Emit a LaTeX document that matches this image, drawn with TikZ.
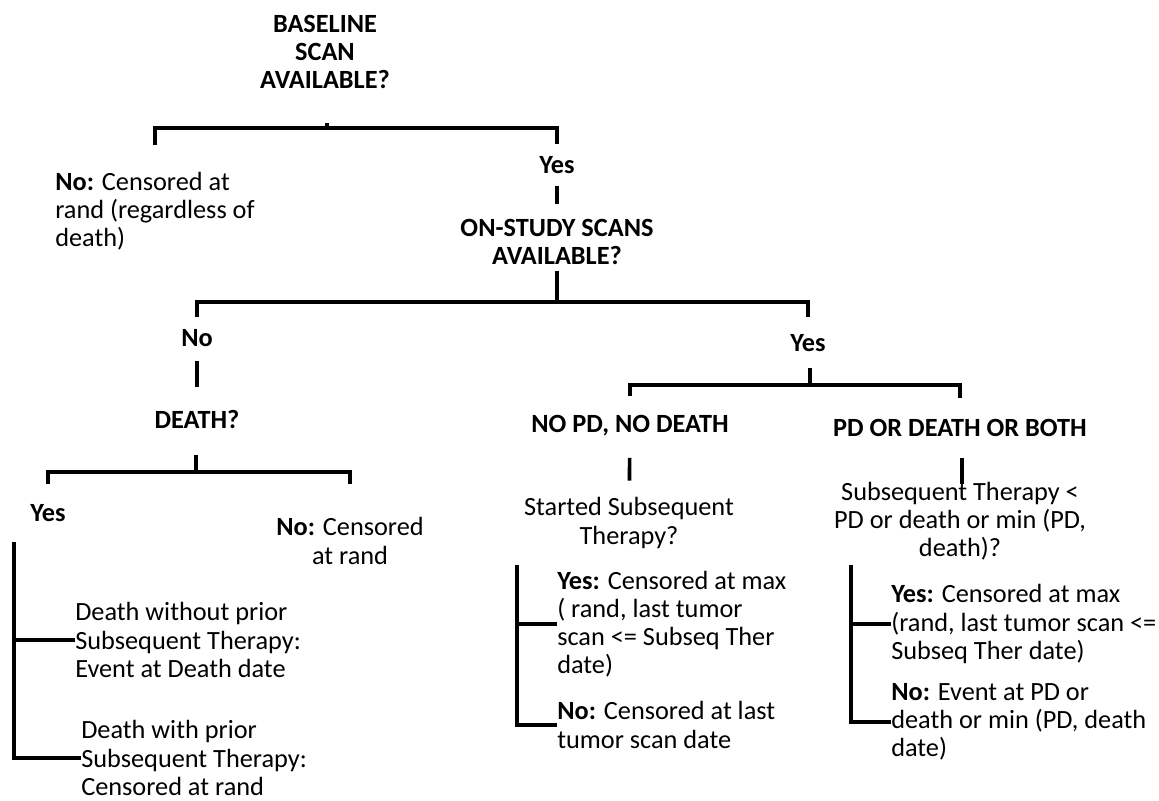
\documentclass[tikz,border=0pt]{standalone}
\usepackage{fontspec}
\setmainfont{Carlito}

\tikzset{
  txt/.style={inner sep=0pt, font=\fontsize{18.7}{20}\selectfont},
  head/.style={txt, font=\fontsize{18.7}{20}\selectfont\bfseries, align=center},
  leaf/.style={txt, align=left, anchor=west},
  bar/.style={line width=2.6pt}
}

\begin{document}
\begin{tikzpicture}[x=0.025cm, y=-0.025cm]
\useasboundingbox (0,0) rectangle (1159,801);

% Questions and answers
\node[head] (q1) at (325,52) {BASELINE\\SCAN\\AVAILABLE?};
\node[leaf] (no1) at (55,211) {\textbf{No:} Censored at\\rand (regardless of\\death)};
\node[head] (yes1) at (557,165) {Yes};
\node[head] (q2) at (557,242) {ON-STUDY SCANS\\AVAILABLE?};
\node[head] (no2) at (197,338) {No};
\node[head] (yes2) at (808,343) {Yes};
\node[head] (death) at (197,420) {DEATH?};
\node[head] (yes3) at (48,513) {Yes};
\node[txt, align=center] (no3) at (350,541) {\textbf{No:} Censored\\at rand};
\node[leaf] (dw) at (75,640) {Death without prior\\Subsequent Therapy:\\Event at Death date};
\node[leaf] (dwp) at (81,758) {Death with prior\\Subsequent Therapy:\\Censored at rand};
\node[head] (nopd) at (630,426) {NO PD, NO DEATH};
\node[head] (pdd) at (960,428) {PD OR DEATH OR BOTH};
\node[txt, align=center] (sst) at (629,523) {Started Subsequent\\Therapy?};
\node[txt, align=center] (sub) at (960,521) {Subsequent Therapy <\\PD or death or min (PD,\\death)?};
\node[leaf] (ya) at (557,624) {\textbf{Yes:} Censored at max\\( rand, last tumor\\scan <= Subseq Ther\\date)};
\node[leaf] (na) at (557,725) {\textbf{No:} Censored at last\\tumor scan date};
\node[leaf] (yb) at (891,624) {\textbf{Yes:} Censored at max\\(rand, last tumor scan <=\\Subseq Ther date)};
\node[leaf] (nb) at (891,722) {\textbf{No:} Event at PD or\\death or min (PD, death\\date)};

% Bar positions
\coordinate (bar1) at (327,128);
\coordinate (bar2) at (557,302);
\coordinate (bar3) at (196,472);
\coordinate (bar4) at (810,385);
\coordinate (rail1) at (14,542);
\coordinate (rail2) at (517,565);
\coordinate (rail3) at (851,565);

% Brackets
\draw[bar] (no1.north) ++(0,-27) |- (bar1) -| ([yshift=8.5pt]yes1.north);
\draw[bar] (bar1) -- ++(0,-5);
\draw[bar, shorten <=8.5pt, shorten >=10.5pt] (yes1) -- (q2);
\draw[bar] ([yshift=-4pt]q2.south) -- (bar2);
\draw[bar] ([yshift=8.5pt]no2.north) |- (bar2) -| ([yshift=12pt]yes2.north);
\draw[bar, shorten <=10pt, shorten >=17pt] (no2) -- (death);
\draw[bar] (bar3) -- ++(0,-17);
\draw[bar] ([yshift=14pt]yes3.north) |- (bar3) -| ([yshift=24pt]no3.north);
\draw[bar] (bar4) -- ++(0,-17);
\draw[bar] ([yshift=14pt]nopd.north) |- (bar4) -| ([yshift=15pt]pdd.north);
\draw[bar, shorten <=15pt, shorten >=12pt] (nopd) -- (sst);
\draw[bar, shorten <=15pt, shorten >=-1.5pt] (pdd.south -| 962,0) -- (sub.north -| 962,0);

% Rails
\draw[bar] (rail1) |- (dwp.west);
\draw[bar] (rail1 |- dw.west) -- (dw.west);
\draw[bar] (rail2) |- (na.west);
\draw[bar] (rail2 |- ya.west) -- (ya.west);
\draw[bar] (rail3) |- (nb.west);
\draw[bar] (rail3 |- yb.west) -- (yb.west);
\end{tikzpicture}
\end{document}
